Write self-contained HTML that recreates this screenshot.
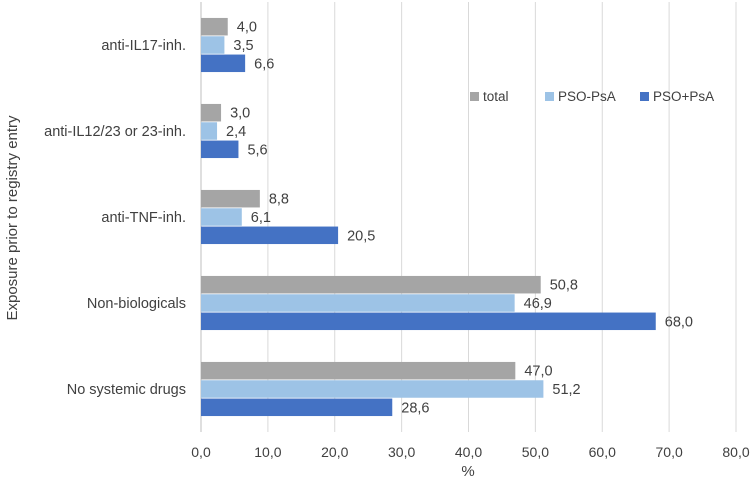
<!DOCTYPE html>
<html><head><meta charset="utf-8"><style>
body{margin:0;background:#fff;}
svg{display:block;font-family:"Liberation Sans",Calibri,sans-serif;}
</style></head><body>
<svg id="chart" width="753" height="479" viewBox="0 0 753 479" xmlns="http://www.w3.org/2000/svg">
<g id="grid"></g>
<g id="bars"></g>
<g id="labels"></g>
<g id="cats"></g>
<g id="ticks"></g>
<text x="468" y="476" font-size="15" fill="#404040" text-anchor="middle">%</text>
<text transform="translate(17,218) rotate(-90)" font-size="15" fill="#404040" text-anchor="middle">Exposure prior to registry entry</text>
<g>
<g><rect x="470" y="92" width="9" height="9" fill="#a5a5a5"/><text x="483" y="101" font-size="13.5" fill="#404040">total</text></g>
<g><rect x="545" y="92" width="9" height="9" fill="#9dc3e6"/><text x="558" y="101" font-size="13.5" fill="#404040">PSO-PsA</text></g>
<g><rect x="640" y="92" width="9" height="9" fill="#4472c4"/><text x="653" y="101" font-size="13.5" fill="#404040">PSO+PsA</text></g>
</g>
</svg>
<script>
const categories=["anti-IL17-inh.","anti-IL12/23 or 23-inh.","anti-TNF-inh.","Non-biologicals","No systemic drugs"];
const totalVals=[4.0,3.0,8.8,50.8,47.0];
const psoNoPsaVals=[3.5,2.4,6.1,46.9,51.2];
const psoPsaVals=[6.6,5.6,20.5,68.0,28.6];
const xTicks=[0,10,20,30,40,50,60,70,80];
const seriesNames=["total","pso-psa","pso-plus-psa"];
const colors=["#a5a5a5","#9dc3e6","#4472c4"];
{
const NS="http://www.w3.org/2000/svg";
const x0=201,x1=736,plotTop=2,plotBottom=432;
const xs=v=>x0+(v/80)*(x1-x0);
const band=(plotBottom-plotTop)/categories.length;
const barH=17.5;
function mk(t,a,p){const e=document.createElementNS(NS,t);for(const k in a)e.setAttribute(k,a[k]);p.appendChild(e);return e;}
const grid=document.getElementById('grid'),bars=document.getElementById('bars'),labels=document.getElementById('labels'),cats=document.getElementById('cats'),ticks=document.getElementById('ticks');
xTicks.forEach(t=>{
 const l=mk('line',{x1:xs(t),x2:xs(t),y1:plotTop,y2:plotBottom,stroke:t===0?'#bfbfbf':'#d9d9d9','stroke-width':1},grid);
 
 
 const tx=mk('text',{x:xs(t),y:457,'font-size':14,fill:'#404040','text-anchor':'middle'},ticks);
 tx.textContent=t.toFixed(1).replace('.',',');
 
 
});
const series=[totalVals,psoNoPsaVals,psoPsaVals];
categories.forEach((c,i)=>{
 const cy=plotTop+band*(i+0.5);
 const ct=mk('text',{x:186,y:cy+5,'font-size':14.5,fill:'#404040','text-anchor':'end'},cats);
 ct.textContent=c;
 
 
 series.forEach((s,j)=>{
  const y=cy+(j-1)*18.3-barH/2;
  const r=mk('rect',{x:xs(0),y:y,width:xs(s[i])-xs(0),height:barH,fill:colors[j]},bars);
  
  
  const lt=mk('text',{x:xs(s[i])+9,y:y+barH/2+5,'font-size':14.5,fill:'#404040'},labels);
  lt.textContent=s[i].toFixed(1).replace('.',',');
  
  
 });
});
}
</script>
</body></html>
